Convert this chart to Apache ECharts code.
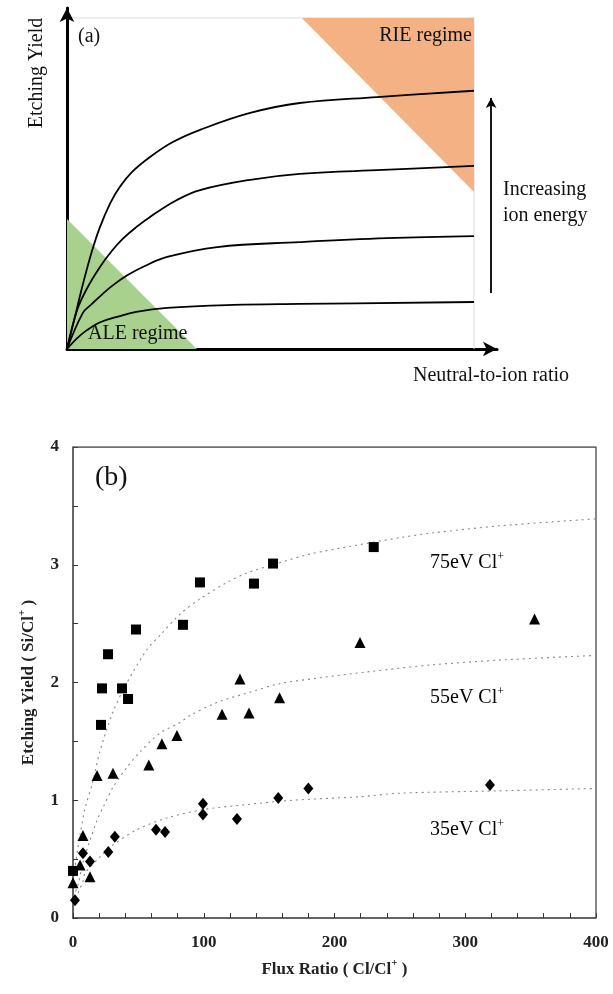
<!DOCTYPE html>
<html lang="en">
<head>
    <meta charset="UTF-8">
    <title>Etching yield vs neutral-to-ion ratio</title>
    <script src="https://cdn.jsdelivr.net/npm/echarts@6.0.0/dist/echarts.min.js"></script>
    <style>
        body { margin: 0; background: #fff; }
        #chart { width: 613px; height: 994px; }
    </style>
</head>
<body>
    <div id="chart"></div>
    <script>
        // ---- panel (a): schematic curves, arbitrary units (x 0..100, y 0..100)
        const schemCurve1 = [[0, 0], [2.5, 3.3], [4.9, 5.7], [8, 8], [12.3, 9.7], [17, 11.2], [24.6, 12.4], [40.8, 13.3], [57.2, 13.6], [100, 14.2]];
        const schemCurve2 = [[0, 0], [3.9, 10.9], [6, 13.5], [8.1, 15.9], [11, 19], [14.7, 22.2], [19, 25], [24.6, 27.8], [36.9, 30.8], [57.2, 32.3], [78.6, 33.5], [100, 34.1]];
        const schemCurve3 = [[0, 0], [2.5, 11.8], [5, 18.5], [8.1, 24.8], [11, 29.6], [13.8, 33.4], [17, 36.8], [20.4, 39.9], [27.0, 45.0], [32.7, 48.0], [45.0, 51.1], [57.2, 52.9], [77.6, 54.1], [100, 55.3]];
        const schemCurve4 = [[0, 0], [2, 10], [4, 20], [6, 29], [8, 36.5], [10.6, 44], [13, 49], [16, 53.5], [20.4, 58.0], [26, 62.5], [32.7, 66.2], [45.0, 71.3], [57.2, 74.3], [76.2, 76.1], [100, 78.0]];
        const aleTriangle = [[0, 39.3], [0, 0], [31.9, 0]];
        const rieTriangle = [[57.7, 100], [100, 100], [100, 47.4]];
        const frameLine = [[0, 100], [100, 100], [100, 0]];
        const energyArrow = [[104.2, 16.9], [104.2, 75.8]];

        // ---- panel (b): measured etching yield (Si/Cl+) vs flux ratio (Cl/Cl+)
        const sq75 = [[0, 0.40], [21.4, 1.64], [22.2, 1.95], [26.8, 2.24], [37.5, 1.95], [42.1, 1.86], [48.2, 2.45], [84.1, 2.49], [97.1, 2.85], [138.4, 2.84], [153, 3.01], [230, 3.15]];
        const tri55 = [[0, 0.30], [5.4, 0.45], [7.6, 0.70], [13, 0.35], [18.4, 1.21], [30.6, 1.23], [58, 1.30], [68, 1.48], [79.5, 1.55], [114, 1.73], [127.7, 2.03], [134.6, 1.74], [158, 1.87], [219.5, 2.34], [353, 2.54]];
        const dia35 = [[1.5, 0.15], [7.6, 0.55], [13, 0.48], [27, 0.56], [32, 0.69], [63.5, 0.75], [70.4, 0.73], [99.4, 0.97], [99.4, 0.88], [125.4, 0.84], [157, 1.02], [180, 1.10], [318.9, 1.13]];

        const fit75 = [[0, 0.30], [3.8, 0.60], [9.2, 0.93], [14.5, 1.13], [20.7, 1.42], [30.6, 1.75], [41.3, 2.00], [56.6, 2.28], [66.5, 2.40], [81.8, 2.58], [97.1, 2.71], [117.8, 2.85], [133, 2.93], [153, 3.00], [181, 3.09], [214, 3.16], [250, 3.23], [275, 3.27], [326, 3.33], [400, 3.39]];
        const fit55 = [[0, 0.18], [3.8, 0.28], [7.6, 0.47], [13, 0.66], [18.4, 0.83], [23, 0.94], [30.6, 1.11], [41.3, 1.28], [51.2, 1.41], [66.5, 1.57], [81.8, 1.66], [89.5, 1.72], [110, 1.83], [133, 1.91], [158, 1.99], [189, 2.04], [225, 2.09], [275, 2.15], [326, 2.19], [400, 2.23]];
        const fit35 = [[0, 0.12], [3.8, 0.21], [7.6, 0.31], [9.2, 0.38], [20.7, 0.52], [30.6, 0.62], [48.9, 0.75], [71.9, 0.85], [99.4, 0.92], [130, 0.96], [168, 1.00], [219.5, 1.03], [250, 1.06], [326.6, 1.08], [400, 1.10]];

        const xTicksB = [0, 100, 200, 300, 400];
        const yTicksB = [0, 1, 2, 3, 4];

        const serif = 'Liberation Serif';
        const chart = echarts.init(document.getElementById('chart'));

        function polygonRenderer(points, color) {
            return function (params, api) {
                if (params.dataIndex !== 0) return null;
                return {
                    type: 'polygon',
                    shape: { points: points.map(p => api.coord(p)) },
                    style: { fill: color }
                };
            };
        }

        function schemLine(data) {
            return {
                type: 'line', xAxisIndex: 0, yAxisIndex: 0, data: data,
                smooth: 0.4, symbol: 'none', z: 5,
                lineStyle: { color: '#000', width: 1.8 }
            };
        }

        function fitLine(data) {
            return {
                type: 'line', xAxisIndex: 1, yAxisIndex: 1, data: data,
                smooth: 0.3, symbol: 'none', z: 2,
                lineStyle: { color: '#888', width: 1.1, type: [2, 4] }
            };
        }

        const energyLabel = (txt, y) => ({
            type: 'text', left: 430, top: y,
            style: {
                text: '{m|' + txt + '}{s|+}',
                rich: {
                    m: { fontFamily: serif, fontSize: 20, color: '#111', lineHeight: 22, verticalAlign: 'bottom' },
                    s: { fontFamily: serif, fontSize: 12, color: '#111', lineHeight: 22, verticalAlign: 'top' }
                }
            }
        });

        const option = {
            backgroundColor: '#fff',
            animation: false,
            grid: [
                { left: 67, top: 8, width: 430, height: 341 },
                { left: 73, top: 447, right: 17, bottom: 76 }
            ],
            xAxis: [
                {
                    gridIndex: 0, type: 'value', min: 0, max: 105.65,
                    axisLine: { show: true, symbol: ['none', 'arrow'], symbolSize: [11, 14], lineStyle: { color: '#000', width: 3 } },
                    axisTick: { show: false }, axisLabel: { show: false }, splitLine: { show: false }
                },
                {
                    gridIndex: 1, type: 'value', min: 0, max: 400, interval: 100,
                    axisLine: { show: true, onZero: false, lineStyle: { color: '#333', width: 1.5 } },
                    axisTick: { show: true, inside: true, length: 5, lineStyle: { color: '#333' } },
                    minorTick: { show: true, splitNumber: 5, length: 5, lineStyle: { color: '#333' } },
                    axisLabel: {
                        margin: 16, color: '#222', fontFamily: serif, fontSize: 17, fontWeight: 'bold',
                        formatter: v => xTicksB.includes(v) ? String(v) : ''
                    },
                    splitLine: { show: false },
                    name: '{n|Flux Ratio ( Cl/Cl}{s|+}{n| )}',
                    nameLocation: 'middle', nameGap: 40,
                    nameTextStyle: {
                        rich: {
                            n: { fontFamily: serif, fontSize: 17, fontWeight: 'bold', color: '#222', lineHeight: 20, verticalAlign: 'bottom' },
                            s: { fontFamily: serif, fontSize: 11, fontWeight: 'bold', color: '#222', lineHeight: 20, verticalAlign: 'top' }
                        }
                    }
                },
                {
                    gridIndex: 1, type: 'value', min: 0, max: 400, interval: 100,
                    axisLine: { show: false },
                    axisTick: { show: true, inside: false, length: 5, lineStyle: { color: '#333' } },
                    axisLabel: { show: false }, splitLine: { show: false }
                }
            ],
            yAxis: [
                {
                    gridIndex: 0, type: 'value', min: 0, max: 103,
                    axisLine: { show: true, symbol: ['none', 'arrow'], symbolSize: [11, 14], lineStyle: { color: '#000', width: 3 } },
                    axisTick: { show: false }, axisLabel: { show: false }, splitLine: { show: false }
                },
                {
                    gridIndex: 1, type: 'value', min: 0, max: 4, interval: 1,
                    axisLine: { show: true, onZero: false, lineStyle: { color: '#333', width: 1.5 } },
                    axisTick: { show: true, inside: true, length: 5, lineStyle: { color: '#333' } },
                    minorTick: { show: true, splitNumber: 2, length: 5, lineStyle: { color: '#333' } },
                    axisLabel: {
                        margin: 14, color: '#222', fontFamily: serif, fontSize: 17, fontWeight: 'bold',
                        formatter: v => yTicksB.includes(v) ? String(v) : ''
                    },
                    splitLine: { show: false },
                    name: '{n|Etching Yield ( Si/Cl}{s|+}{n| )}',
                    nameLocation: 'middle', nameGap: 36,
                    nameTextStyle: {
                        rich: {
                            n: { fontFamily: serif, fontSize: 17, fontWeight: 'bold', color: '#222', lineHeight: 20, verticalAlign: 'bottom' },
                            s: { fontFamily: serif, fontSize: 11, fontWeight: 'bold', color: '#222', lineHeight: 20, verticalAlign: 'top' }
                        }
                    }
                },
                {
                    gridIndex: 1, type: 'value', min: 0, max: 4, interval: 1,
                    axisLine: { show: false },
                    axisTick: { show: true, inside: false, length: 5, lineStyle: { color: '#333' } },
                    axisLabel: { show: false }, splitLine: { show: false }
                }
            ],
            graphic: [
                { type: 'text', left: 78, top: 27, style: { text: '(a)', fontFamily: serif, fontSize: 20, fill: '#111' } },
                { type: 'text', x: 37, y: 73, rotation: Math.PI / 2, style: { text: 'Etching Yield', fontFamily: serif, fontSize: 20, fill: '#111', align: 'center', verticalAlign: 'middle' } },
                { type: 'text', x: 472, y: 36, z: 10, style: { text: 'RIE regime', fontFamily: serif, fontSize: 20, fill: '#111', align: 'right', verticalAlign: 'middle' } },
                { type: 'text', x: 88, y: 334, z: 10, style: { text: 'ALE regime', fontFamily: serif, fontSize: 20, fill: '#111', align: 'left', verticalAlign: 'middle' } },
                { type: 'text', x: 503, y: 190, style: { text: 'Increasing', fontFamily: serif, fontSize: 20, fill: '#111', verticalAlign: 'middle' } },
                { type: 'text', x: 503, y: 216, style: { text: 'ion energy', fontFamily: serif, fontSize: 20, fill: '#111', verticalAlign: 'middle' } },
                { type: 'text', x: 413, y: 376, style: { text: 'Neutral-to-ion ratio', fontFamily: serif, fontSize: 20, fill: '#111', verticalAlign: 'middle' } },
                { type: 'text', x: 95, y: 478, style: { text: '(b)', fontFamily: serif, fontSize: 28, fill: '#111', verticalAlign: 'middle' } },
                energyLabel('75eV Cl', 551),
                energyLabel('55eV Cl', 686),
                energyLabel('35eV Cl', 818)
            ],
            series: [
                {
                    type: 'custom', xAxisIndex: 0, yAxisIndex: 0, data: aleTriangle, z: 1,
                    renderItem: polygonRenderer(aleTriangle, '#a9d18e')
                },
                {
                    type: 'custom', xAxisIndex: 0, yAxisIndex: 0, data: rieTriangle, z: 1,
                    renderItem: polygonRenderer(rieTriangle, '#f4b183')
                },
                {
                    type: 'line', xAxisIndex: 0, yAxisIndex: 0, data: frameLine, symbol: 'none', z: 0,
                    lineStyle: { color: '#dcdcdc', width: 1 }
                },
                schemLine(schemCurve1),
                schemLine(schemCurve2),
                schemLine(schemCurve3),
                schemLine(schemCurve4),
                {
                    type: 'line', xAxisIndex: 0, yAxisIndex: 0, data: [], symbol: 'none',
                    markLine: {
                        silent: true, symbol: ['none', 'arrow'], symbolSize: [8, 10], label: { show: false },
                        lineStyle: { color: '#000', width: 1.8, type: 'solid' },
                        data: [[{ coord: energyArrow[0] }, { coord: energyArrow[1] }]]
                    }
                },
                // panel (b) frame top/right
                {
                    type: 'line', xAxisIndex: 1, yAxisIndex: 1, data: [[0, 4], [400, 4], [400, 0]], symbol: 'none', z: 1,
                    lineStyle: { color: '#444', width: 1.3 }
                },
                fitLine(fit75),
                fitLine(fit55),
                fitLine(fit35),
                {
                    type: 'scatter', xAxisIndex: 1, yAxisIndex: 1, data: sq75, symbol: 'rect', symbolSize: 10, z: 4,
                    itemStyle: { color: '#000', opacity: 1 }
                },
                {
                    type: 'scatter', xAxisIndex: 1, yAxisIndex: 1, data: tri55, symbol: 'triangle', symbolSize: 11, z: 4,
                    itemStyle: { color: '#000', opacity: 1 }
                },
                {
                    type: 'scatter', xAxisIndex: 1, yAxisIndex: 1, data: dia35, symbol: 'diamond', symbolSize: [10, 12], z: 4,
                    itemStyle: { color: '#000', opacity: 1 }
                }
            ]
        };
        chart.setOption(option);
    </script>
</body>
</html>
